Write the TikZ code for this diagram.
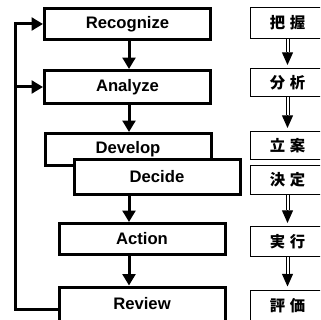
\documentclass[tikz,border=0pt]{standalone}
\usepackage{fontspec}
\setmainfont{Liberation Sans}
\newfontfamily\jpfont{Noto Sans CJK JP}
\usetikzlibrary{arrows.meta}

\tikzset{every picture/.style={line width=0.75pt}}

\begin{document}
\begin{tikzpicture}[x=0.75pt,y=0.75pt,yscale=-1,xscale=1,
  stepbox/.style={draw, line width=2.25pt, fill=white, inner sep=0pt, minimum width=124.5pt, font=\bfseries\fontsize{12.5}{14}\selectfont},
  jbox/.style={draw, line width=0.75pt, fill=white, inner sep=0pt, minimum width=55.5pt, font=\jpfont\bfseries\fontsize{11.5}{13}\selectfont},
  flow/.style={-{Triangle[width=9.5pt,length=8.5pt]}, line width=2.25pt},
  jflow/.style={-{Triangle[width=8.25pt,length=9.5pt]}, line width=0.75pt, shorten >=2.25pt,
    postaction={draw, -, double, double distance=1.5pt, shorten >=11.75pt}}]
\clip (0,0) rectangle (320,320); %set diagram 320 x 320

\coordinate (spine) at (129,0);
\coordinate (loop) at (15,0);

%Shape: Rectangle [left column]
\node [stepbox, minimum height=23.25pt] (rec) at (127.5,24) {Recognize};
\node [stepbox, minimum height=24.75pt] (ana) at (127.5,87) {Analyze};
\node [stepbox, minimum height=24pt] (dev) at (128,149.5) {Develop};
\node [stepbox, minimum height=26.25pt] (dec) at (157,177) {Decide};
\node [stepbox, minimum height=23.25pt] (act) at (142,239) {Action};
\node [stepbox, minimum height=25.5pt] (rev) at (142,304) {Review};

%Shape: Rectangle [right column]
\node [jbox, minimum height=23.25pt] (haaku) at (287.5,23) {把\hspace{3.5pt}握};
\node [jbox, minimum height=21pt] (bunseki) at (287.5,82.5) {分\hspace{3.5pt}析};
\node [jbox, minimum height=21pt] (rian) at (287.5,145.5) {立\hspace{3.5pt}案};
\node [jbox, minimum height=21.75pt] (kettei) at (287.5,180) {決\hspace{3.5pt}定};
\node [jbox, minimum height=22.5pt] (jikkou) at (287.5,241.5) {実\hspace{3.5pt}行};
\node [jbox, minimum height=24pt] (hyouka) at (287.5,306) {評\hspace{3.5pt}価};

%Straight Lines [left arrows]
\draw [flow] (rec.south -| spine) -- (ana.north -| spine);
\draw [flow] (ana.south -| spine) -- (dev.north -| spine);
\draw [flow] (dec.south -| spine) -- (act.north -| spine);
\draw [flow] (act.south -| spine) -- (rev.north -| spine);

%Straight Lines [feedback]
\draw [flow] ([yshift=3.75pt]rev.west) -| (loop |- rec.west) -- (rec.west);
\draw [flow] (loop |- ana.west) -- (ana.west);

%Straight Lines [right arrows]
\draw [jflow] (haaku) -- (bunseki);
\draw [jflow] (bunseki) -- (rian);
\draw [jflow] (kettei) -- (jikkou);
\draw [jflow] (jikkou) -- (hyouka);

\end{tikzpicture}
\end{document}
